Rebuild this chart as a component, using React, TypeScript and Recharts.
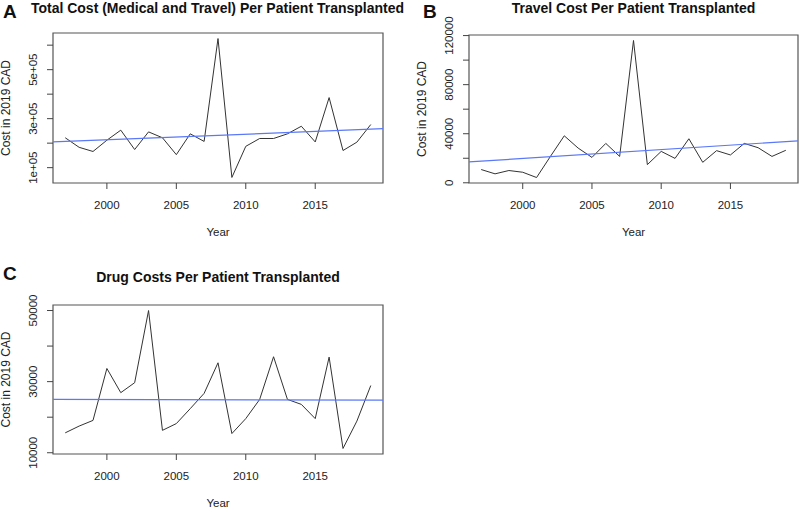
import { LineChart, Line, XAxis, YAxis, ReferenceArea } from "recharts"

const years = [
  1997, 1998, 1999, 2000, 2001, 2002, 2003, 2004, 2005, 2006, 2007, 2008,
  2009, 2010, 2011, 2012, 2013, 2014, 2015, 2016, 2017, 2018, 2019,
]

const totalCost = [
  222000, 183000, 166000, 212000, 253000, 174000, 246000, 222000, 153000, 238000,
  207000, 627000, 60000, 187000, 219000, 219000, 238000, 269000, 205000, 386000,
  170000, 204000, 276000,
]

const travelCost = [
  10800, 7300, 10000, 8600, 4300, 21500, 38300, 28300, 20700, 32100, 21500,
  116000, 14800, 25600, 19900, 35900, 16700, 26200, 22700, 32100, 28600, 21500,
  26500,
]

const drugCost = [
  15600, 17500, 19100, 33700, 26900, 29700, 50000, 16300, 18200, 22400, 26700,
  35300, 15400, 19600, 25000, 37000, 25000, 23600, 19600, 36900, 11200, 18900,
  28900,
]

// fitted trend lines, read at the left and right edge of each plot
const trendTotal = [205000, 259000]
const trendTravel = [17000, 34200]
const trendDrug = [25000, 24800]

const xTicks = [2000, 2005, 2010, 2015]

const yTicksTotal = [100000, 200000, 300000, 400000, 500000, 600000]
const yLabelsTotal = ["1e+05", "", "3e+05", "", "5e+05", ""]

const yTicksTravel = [0, 20000, 40000, 60000, 80000, 100000, 120000]
const yLabelsTravel = ["0", "", "40000", "", "80000", "", "120000"]

const yTicksDrug = [10000, 20000, 30000, 40000, 50000]
const yLabelsDrug = ["10000", "", "30000", "", "50000"]

const FONT = "'Liberation Sans', Arial, Helvetica, sans-serif"
const INK = "#222"

// R pads the data range by 4% on each side
function padRange(values: number[]): [number, number] {
  const lo = Math.min(...values)
  const hi = Math.max(...values)
  const d = (hi - lo) * 0.04
  return [lo - d, hi + d]
}

interface PanelProps {
  values: number[]
  trend: number[]
  yTicks: number[]
  yLabels: string[]
  left: number
  top: number
  width: number
  height: number
  margin: { top: number; right: number; bottom: number; left: number }
}

function Panel({ values, trend, yTicks, yLabels, left, top, width, height, margin }: PanelProps) {
  const xDomain = padRange(years)
  const yDomain = padRange(values)
  const data = years.map((year, i) => ({ year, cost: values[i] }))
  const trendData = [
    { year: xDomain[0], fit: trend[0] },
    { year: xDomain[1], fit: trend[1] },
  ]

  return (
    <div style={{ position: "absolute", left, top }}>
      <LineChart width={width} height={height} data={data} margin={margin}>
        <XAxis
          type="number"
          dataKey="year"
          domain={xDomain}
          allowDataOverflow
          ticks={xTicks}
          axisLine={false}
          tickSize={6}
          tickMargin={12}
          height={55}
          tickLine={{ stroke: "#444" }}
          tick={{ fontSize: 11.5, fill: INK }}
          label={{ value: "Year", position: "insideBottom", offset: 2, fill: INK, fontSize: 11.5 }}
        />
        <YAxis
          type="number"
          domain={yDomain}
          allowDataOverflow
          ticks={yTicks}
          interval={0}
          axisLine={false}
          tickSize={6}
          tickMargin={14}
          width={47}
          tickLine={{ stroke: "#444" }}
          tickFormatter={(v: number) => yLabels[yTicks.indexOf(v)] ?? ""}
          tick={{ fontSize: 11.5, fill: INK, angle: -90, textAnchor: "middle" }}
          label={{
            value: "Cost in 2019 CAD",
            angle: -90,
            position: "insideLeft",
            offset: 0,
            fill: INK,
            fontSize: 12,
            style: { textAnchor: "middle" },
          }}
        />
        <ReferenceArea
          x1={xDomain[0]}
          x2={xDomain[1]}
          y1={yDomain[0]}
          y2={yDomain[1]}
          fill="none"
          stroke="#555"
          strokeWidth={1.2}
          ifOverflow="visible"
        />
        <Line
          type="linear"
          dataKey="cost"
          stroke="#333"
          strokeWidth={1}
          dot={false}
          isAnimationActive={false}
        />
        <Line
          type="linear"
          data={trendData}
          dataKey="fit"
          stroke="#5a78f7"
          strokeWidth={1.2}
          dot={false}
          isAnimationActive={false}
        />
      </LineChart>
    </div>
  )
}

export default function App() {
  return (
    <div
      style={{
        position: "absolute",
        left: 0,
        top: 0,
        width: 800,
        height: 509,
        background: "#fff",
        fontFamily: FONT,
      }}
    >
      <Panel
        values={totalCost}
        trend={trendTotal}
        yTicks={yTicksTotal}
        yLabels={yLabelsTotal}
        left={0}
        top={0}
        width={400}
        height={250}
        margin={{ top: 33, right: 17, bottom: 12, left: 6 }}
      />
      <Panel
        values={travelCost}
        trend={trendTravel}
        yTicks={yTicksTravel}
        yLabels={yLabelsTravel}
        left={400}
        top={0}
        width={400}
        height={250}
        margin={{ top: 35, right: 2, bottom: 12, left: 22 }}
      />
      <Panel
        values={drugCost}
        trend={trendDrug}
        yTicks={yTicksDrug}
        yLabels={yLabelsDrug}
        left={0}
        top={250}
        width={400}
        height={259}
        margin={{ top: 55, right: 17, bottom: 0, left: 6 }}
      />
      <svg
        width={800}
        height={509}
        style={{ position: "absolute", left: 0, top: 0, pointerEvents: "none" }}
        fontFamily={FONT}
        fill="#111"
      >
        <text x={3} y={18} fontSize={19} fontWeight="bold">A</text>
        <text x={423} y={18} fontSize={19} fontWeight="bold">B</text>
        <text x={3} y={280} fontSize={19} fontWeight="bold">C</text>
        <text x={217.5} y={12.5} fontSize={14} fontWeight="bold" textAnchor="middle">
          Total Cost (Medical and Travel) Per Patient Transplanted
        </text>
        <text x={633.5} y={12.5} fontSize={14} fontWeight="bold" textAnchor="middle">
          Travel Cost Per Patient Transplanted
        </text>
        <text x={218} y={282} fontSize={14} fontWeight="bold" textAnchor="middle">
          Drug Costs Per Patient Transplanted
        </text>
      </svg>
    </div>
  )
}
